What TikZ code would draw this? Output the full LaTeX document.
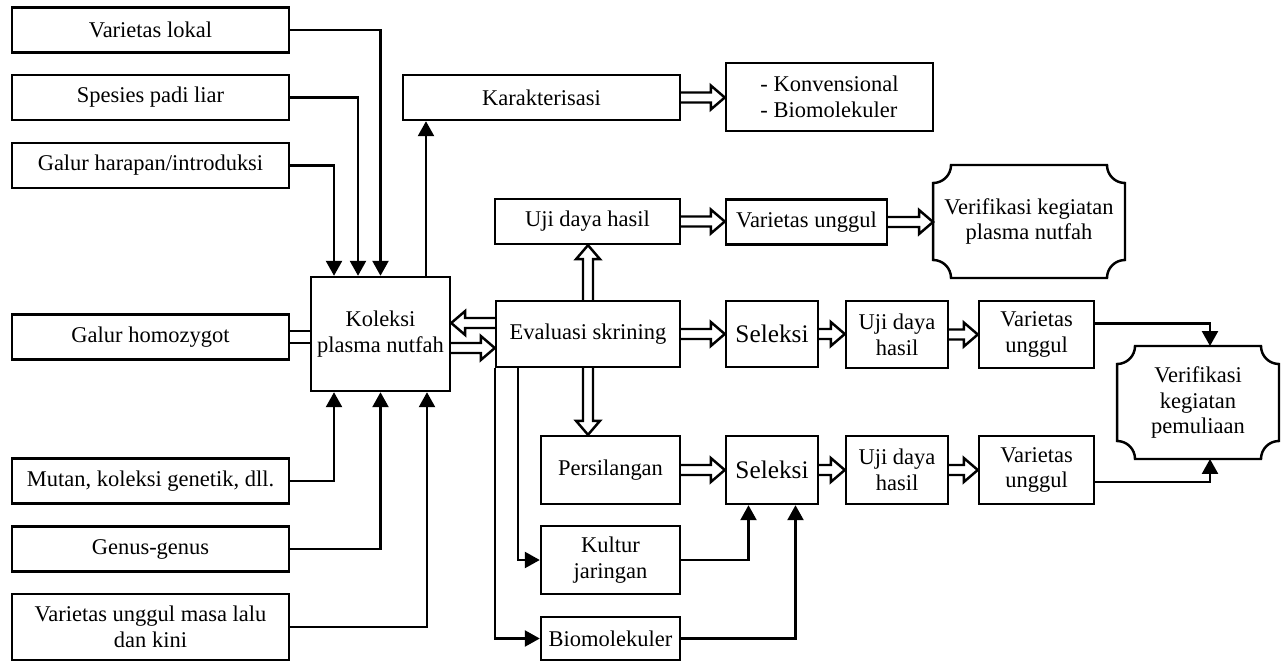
\documentclass[tikz,border=0pt]{standalone}
\usepackage{fontspec}
\setmainfont{Liberation Serif}
\usetikzlibrary{calc,arrows.meta}
\tikzset{
	box/.style={draw, line width=1.4pt, minimum width=5.54cm, minimum height=0.9cm, inner sep=1pt, align=center, font=\fontsize{12.8}{14.6}\selectfont},
	plain box/.style={box, draw=none, outer sep=0pt},
	big/.style={font=\fontsize{14.4}{16}\selectfont},
	arr/.style={line width=1.4pt, -{Triangle[length=0.3cm,width=0.32cm]}},
	dbl/.style={line width=1.4pt, double, double distance=0.19cm},
	hollow/.style={line width=1.4pt, line join=miter, to path={
		($(\tikztotarget)!0.28cm!(\tikztostart)$) coordinate (hb)
		($(\tikztostart)!0.1cm!90:(\tikztotarget)$)
		-- ($(hb)!0.1cm!90:(\tikztotarget)$)
		-- ($(hb)!0.24cm!90:(\tikztotarget)$)
		-- (\tikztotarget)
		-- ($(hb)!0.24cm!-90:(\tikztotarget)$)
		-- ($(hb)!0.1cm!-90:(\tikztotarget)$)
		-- ($(\tikztostart)!0.1cm!-90:(\tikztotarget)$)}}
}
\newcommand\concave[2][18]{\draw[line width=1.4pt]
	($(#2.north west)+(#1,0)$) -- ($(#2.north east)+(-#1,0)$)
	arc[start angle=180, end angle=270, radius=#1] -- ($(#2.south east)+(0,#1)$)
	arc[start angle=90, end angle=180, radius=#1] -- ($(#2.south west)+(#1,0)$)
	arc[start angle=0, end angle=90, radius=#1] -- ($(#2.north west)+(0,-#1)$)
	arc[start angle=270, end angle=360, radius=#1] -- cycle;}

\begin{document}
\begin{tikzpicture}[x=0.02cm, y=0.02cm]
	%%%%% START %%%%%
	\useasboundingbox (0,0) rectangle (1281,-662);
	
	% sources
	\node[box] (lokal) at (150.5,-30) {Varietas lokal};
	\node[box] (liar) at (150.5,-97.5) {Spesies padi liar};
	\node[box] (harapan) at (150.5,-165.5) {Galur harapan/introduksi};
	\node[box] (homozygot) at (150.5,-337) {Galur homozygot};
	\node[box] (mutan) at (150.5,-481) {Mutan, koleksi genetik, dll.};
	\node[box] (genus) at (150.5,-549) {Genus-genus};
	\node[box, minimum height=1.32cm] (lalu) at (150.5,-627) {Varietas unggul masa lalu\\dan kini};
	
	\node[box, minimum width=2.78cm, minimum height=2.28cm] (koleksi) at (380.5,-334) {Koleksi\\plasma nutfah};
	
	\node[box] (karakter) at (541.5,-97.5) {Karakterisasi};
	\node[box, minimum width=4.14cm, minimum height=1.36cm, align=left] (konv) at (829.5,-97) {- Konvensional\\- Biomolekuler};
	
	% upper row
	\node[box, minimum width=3.7cm] (ujitop) at (587.5,-221.5) {Uji daya hasil};
	\node[box, minimum width=3.22cm] (vartop) at (806.5,-222) {Varietas unggul};
	\node[plain box, minimum width=3.84cm, minimum height=2.26cm] (verplasma) at (1029,-221.5) {Verifikasi kegiatan\\plasma nutfah};
	\concave{verplasma}
	
	% middle row
	\node[box, minimum width=3.68cm, minimum height=1.32cm] (evaluasi) at (588,-334) {Evaluasi skrining};
	\node[box, big, minimum width=1.84cm, minimum height=1.32cm] (seleksi1) at (772,-334) {Seleksi};
	\node[box, minimum width=2.04cm, minimum height=1.34cm] (uji1) at (897,-334.5) {Uji daya\\hasil};
	\node[box, minimum width=2.3cm, minimum height=1.34cm] (var1) at (1036.5,-334.5) {Varietas\\unggul};
	\node[plain box, minimum width=3.24cm, minimum height=2.26cm] (verpem) at (1198,-402.5) {Verifikasi\\kegiatan\\pemuliaan};
	\concave{verpem}
	
	% lower rows
	\node[box, minimum width=2.78cm, minimum height=1.36cm] (persilangan) at (610.5,-470) {Persilangan};
	\node[box, big, minimum width=1.84cm, minimum height=1.36cm] (seleksi2) at (772,-470) {Seleksi};
	\node[box, minimum width=2.04cm, minimum height=1.36cm] (uji2) at (897,-470) {Uji daya\\hasil};
	\node[box, minimum width=2.3cm, minimum height=1.36cm] (var2) at (1036.5,-470) {Varietas\\unggul};
	\node[box, minimum width=2.78cm, minimum height=1.36cm] (kultur) at (610.5,-560) {Kultur\\jaringan};
	\node[box, minimum width=2.78cm, minimum height=0.86cm] (biomol) at (610.5,-638.5) {Biomolekuler};
	
	% into koleksi
	\draw[arr] (lokal) -| (koleksi.north);
	\draw[arr] (liar) -| ([xshift=-0.45cm]koleksi.north);
	\draw[arr] (harapan) -| ([xshift=-0.93cm]koleksi.north);
	\draw[arr] (mutan) -| ([xshift=-0.93cm]koleksi.south);
	\draw[arr] (genus) -| (koleksi.south);
	\draw[arr] (lalu) -| ([xshift=0.93cm]koleksi.south);
	\draw[dbl] (homozygot) -- (homozygot -| koleksi.west);
	\draw[arr] ([xshift=0.91cm]koleksi.north) -- ([xshift=0.91cm]koleksi.north |- karakter.south);
	
	\draw[hollow] (karakter.east) to (karakter.east -| konv.west);
	\draw[hollow] ([yshift=0.22cm]evaluasi.west) to ([yshift=0.22cm]koleksi.east);
	\draw[hollow] ([yshift=-0.28cm]koleksi.east) to ([yshift=-0.28cm]evaluasi.west);
	
	% upper row
	\draw[hollow] (evaluasi.north) to (evaluasi.north |- ujitop.south);
	\draw[hollow] (ujitop.east) to (ujitop.east -| vartop.west);
	\draw[hollow] (vartop.east) to (vartop.east -| verplasma.west);
	
	% middle row
	\draw[hollow] (evaluasi.east) to (evaluasi.east -| seleksi1.west);
	\draw[hollow] (seleksi1.east) to (seleksi1.east -| uji1.west);
	\draw[hollow] (uji1.east) to (uji1.east -| var1.west);
	\draw[arr] ([yshift=0.22cm]var1.east) -| ([xshift=0.24cm]verpem.north);
	
	% lower rows
	\draw[hollow] (evaluasi.south) to (evaluasi.south |- persilangan.north);
	\draw[hollow] (persilangan.east) to (persilangan.east -| seleksi2.west);
	\draw[hollow] (seleksi2.east) to (seleksi2.east -| uji2.west);
	\draw[hollow] (uji2.east) to (uji2.east -| var2.west);
	\draw[arr] ([yshift=-0.24cm]var2.east) -| ([xshift=0.24cm]verpem.south);
	\draw[arr] ([xshift=-1.4cm]evaluasi.south) |- (kultur);
	\draw[arr] (evaluasi.south west) |- (biomol);
	\draw[arr] (kultur) -| ([xshift=-0.47cm]seleksi2.south);
	\draw[arr] (biomol) -| ([xshift=0.47cm]seleksi2.south);
	%%%%% END %%%%%
\end{tikzpicture}
\end{document}
